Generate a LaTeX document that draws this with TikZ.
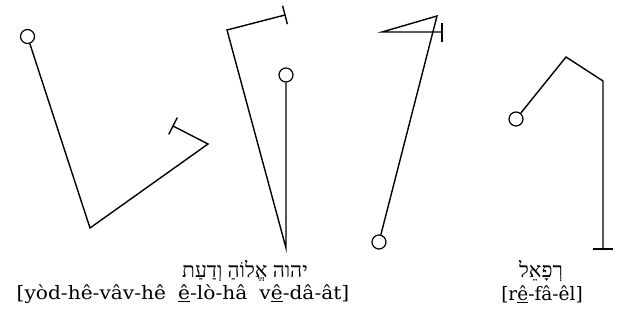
\documentclass[tikz,border=0pt]{standalone}
\usepackage{fontspec}
\usetikzlibrary{calc}
\TeXXeTstate=1
\newfontfamily\hebfont[Script=Hebrew]{Liberation Serif}
\newfontfamily\latfont{DejaVu Serif}
\begin{document}
\begin{tikzpicture}[x=1pt,y=-1pt,line width=1.4pt,line join=miter,
  ring/.style={circle,draw,line width=1.2pt,minimum size=14pt,inner sep=0pt},
  heb/.style={font=\hebfont\fontsize{21}{21}\selectfont,inner sep=0pt},
  lat/.style={font=\latfont\fontsize{18.5}{19}\selectfont,inner sep=0pt}]
\useasboundingbox (0,0) rectangle (623,324);
% figure 1
\node[ring] (c1) at (27.5,36.5) {};
\coordinate (a1) at (90,228);
\coordinate (a2) at (208,144);
\coordinate (a3) at (173,126);
\draw (c1) -- (a1) -- (a2) -- (a3);
\draw ($(a3)+(4.3,-8.4)$) -- ($(a3)+(-4.3,8.4)$);
% figure 2
\coordinate (b0) at (285,15);
\coordinate (b1) at (227,30);
\coordinate (b2) at (286,248);
\node[ring] (c2) at (286,75) {};
\draw (b0) -- (b1) -- (b2) -- (c2);
\draw ($(b0)+(-2.4,-9.2)$) -- ($(b0)+(2.4,9.2)$);
% figure 3
\coordinate (d0) at (442,32);
\coordinate (d1) at (382,32);
\coordinate (d2) at (437,16);
\node[ring] (c3) at (379,242) {};
\draw (d0) -- (d1) -- (d2) -- (c3);
\draw ($(d0)+(0,-9.5)$) -- ($(d0)+(0,9.5)$);
% figure 4
\node[ring] (c4) at (516,119) {};
\coordinate (e1) at (566,57);
\coordinate (e2) at (603,81);
\coordinate (e3) at (603,249);
\draw (c4) -- (e1) -- (e2) -- (e3);
\draw ($(e3)+(-10,0)$) -- ($(e3)+(10,0)$);
% labels
\node[heb] (h1) at (245,271) {\beginR יהוה אֱלוֹהַ וְדַעַת\endR};
\node[lat,xscale=1.09] (l1) at (183,294) {[yòd-hê-vâv-hê\hspace{0.6em}\underline{ê}-lò-hâ\hspace{0.6em}v\underline{ê}-dâ-ât]};
\node[heb] (h2) at (541,271) {\beginR רְפָאֵל\endR};
\node[lat] (l2) at (542,294) {[r\underline{ê}-fâ-êl]};
\end{tikzpicture}
\end{document}
